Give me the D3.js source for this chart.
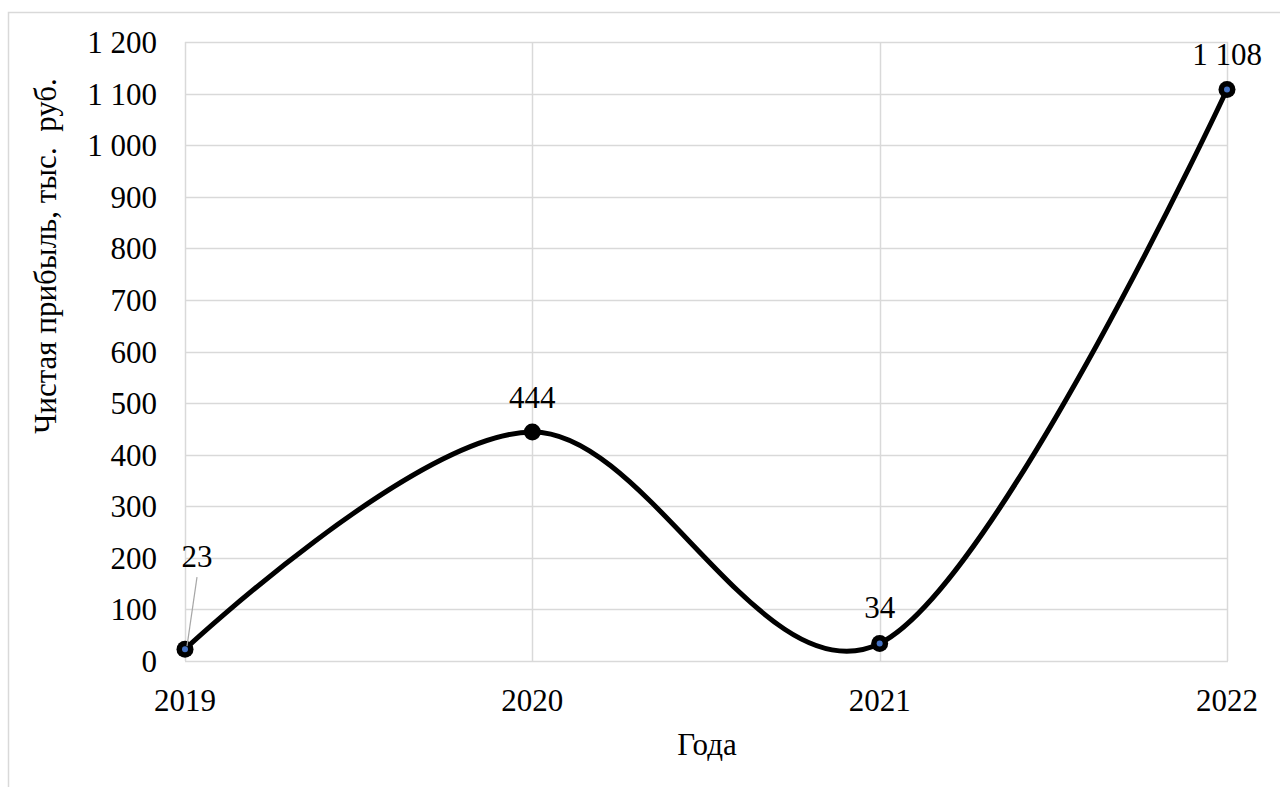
<!DOCTYPE html>
<html>
<head>
<meta charset="utf-8">
<script src="https://cdn.jsdelivr.net/npm/d3@7"></script>
<style>
  html, body { margin: 0; padding: 0; background: #fff; }
  svg { display: block; }
</style>
</head>
<body>
<svg id="chart" width="1280" height="787"></svg>
<script>
// Net profit by year, thousand roubles
const years = ["2019", "2020", "2021", "2022"];
const profit = [23, 444, 34, 1108];
const yTicks = [0, 100, 200, 300, 400, 500, 600, 700, 800, 900, 1000, 1100, 1200];
const yTitle = "Чистая прибыль, тыс.  руб.";
const xTitle = "Года";

const FONT = "'Liberation Serif'";
const fontSize = 31;
const svg = d3.select("#chart");
const W = 1280, H = 787;
const plot = { left: 185, right: 1227, top: 42, bottom: 661 };

// outer chart frame
svg.append("rect")
  .attr("x", 8.5).attr("y", 12.5)
  .attr("width", W).attr("height", H)
  .attr("fill", "#fff").attr("stroke", "#d9d9d9").attr("stroke-width", 1.5);

const x = d3.scalePoint().domain(years).range([plot.left, plot.right]).padding(0);
const y = d3.scaleLinear().domain([0, 1200]).range([plot.bottom, plot.top]);

const fmt = v => d3.format(",")(v).replace(/,/g, " ");
const styleText = sel => sel.attr("font-family", FONT).attr("font-size", fontSize).attr("fill", "#000");

// horizontal gridlines
svg.append("g").selectAll("line").data(yTicks).join("line")
  .attr("x1", plot.left).attr("x2", plot.right + 1)
  .attr("y1", d => Math.round(y(d)) + 0.5).attr("y2", d => Math.round(y(d)) + 0.5)
  .attr("stroke", "#d9d9d9").attr("stroke-width", 1.5);

// vertical gridlines at each year
svg.append("g").selectAll("line").data(years).join("line")
  .attr("x1", d => Math.round(x(d)) + 0.5).attr("x2", d => Math.round(x(d)) + 0.5)
  .attr("y1", plot.top).attr("y2", plot.bottom)
  .attr("stroke", "#d9d9d9").attr("stroke-width", 1.5);

// y tick labels
svg.append("g").selectAll("text").data(yTicks).join("text")
  .call(styleText)
  .attr("x", 157).attr("y", d => y(d) + 11)
  .attr("text-anchor", "end")
  .text(fmt);

// x tick labels
svg.append("g").selectAll("text").data(years).join("text")
  .call(styleText)
  .attr("x", d => x(d)).attr("y", 711)
  .attr("text-anchor", "middle")
  .text(d => d);

// axis titles
svg.append("text")
  .call(styleText)
  .attr("transform", "translate(56,256) rotate(-90)")
  .attr("text-anchor", "middle")
  .style("white-space", "pre")
  .text(yTitle);

svg.append("text")
  .call(styleText)
  .attr("x", 707).attr("y", 755)
  .attr("text-anchor", "middle")
  .text(xTitle);

// smoothed line
const pts = years.map((d, i) => ({ year: d, value: profit[i] }));
const line = d3.line()
  .x(d => x(d.year)).y(d => y(d.value))
  .curve(d3.curveCardinal.tension(0));

svg.append("path")
  .datum(pts)
  .attr("d", line)
  .attr("fill", "none").attr("stroke", "#000").attr("stroke-width", 5)
  .attr("stroke-linejoin", "round");

// markers
const mk = svg.append("g").selectAll("g").data(pts).join("g")
  .attr("transform", d => `translate(${x(d.year)},${y(d.value)})`);
mk.append("circle").attr("r", 8.5).attr("fill", "#000");
mk.filter(d => d.year !== "2020").append("circle").attr("r", 3).attr("fill", "#4472c4");

// data labels
const labelPos = {
  "2019": { dx: 12, dy: -82 },
  "2020": { dx: 0, dy: -24 },
  "2021": { dx: 0, dy: -25 },
  "2022": { dx: 0, dy: -24 }
};
// leader line for the first label
svg.append("line")
  .attr("x1", x("2019") + 12).attr("y1", y(profit[0]) - 72)
  .attr("x2", x("2019") + 2).attr("y2", y(profit[0]) - 3)
  .attr("stroke", "#a6a6a6").attr("stroke-width", 1.2);

svg.append("g").selectAll("text").data(pts).join("text")
  .call(styleText)
  .attr("x", d => x(d.year) + labelPos[d.year].dx)
  .attr("y", d => y(d.value) + labelPos[d.year].dy)
  .attr("text-anchor", "middle")
  .text(d => fmt(d.value));
</script>
</body>
</html>
